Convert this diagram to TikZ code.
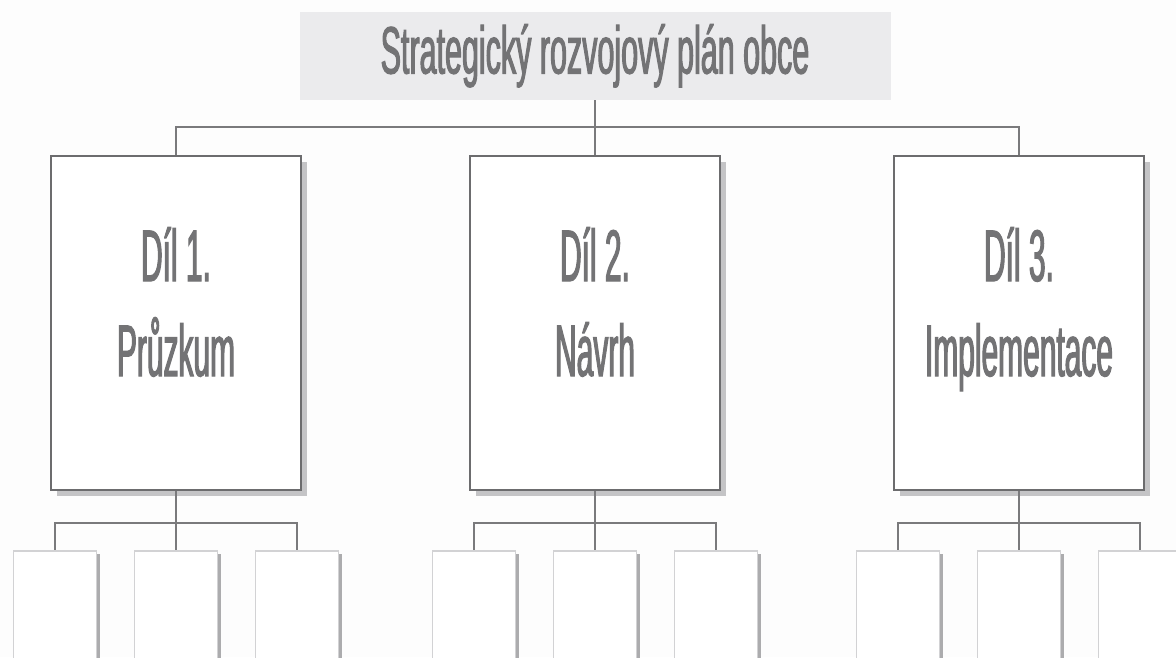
\documentclass[tikz,border=0pt]{standalone}
\usepackage{fontspec}
\usepackage{xcolor}
\usepackage{tikz}
\usetikzlibrary{shadows}
\newfontfamily\condfont[FakeStretch=0.41, FakeBold=1.5]{Liberation Sans}
\newfontfamily\headfont[FakeStretch=0.455, FakeBold=1.5]{Liberation Sans}
\definecolor{bg}{HTML}{FDFDFD}
\definecolor{headbg}{HTML}{EBEBED}
\definecolor{ink}{HTML}{737375}
\definecolor{edge}{HTML}{6C6C6E}
\definecolor{wiregray}{HTML}{7A7A7C}
\definecolor{shade}{HTML}{C4C4C6}
\definecolor{faint}{HTML}{D2D2D4}
\definecolor{fshade}{HTML}{ACACAE}
\tikzset{
  headbox/.style={fill=headbg, minimum width=591pt, minimum height=88pt, inner sep=0pt,
    text=ink, font=\headfont\fontsize{67}{67}\selectfont, text height=48pt, text depth=13pt},
  partbox/.style={draw=edge, fill=white, line width=2pt, minimum width=250pt, minimum height=334pt,
    drop shadow={shadow xshift=6pt, shadow yshift=-6pt, fill=shade, opacity=1}},
  parttxt/.style={text=ink, align=center, inner sep=0pt, font=\condfont\fontsize{73}{95}\selectfont},
  subbox/.style={draw=faint, fill=white, line width=1.5pt, minimum width=83pt, minimum height=160pt,
    anchor=north, drop shadow={shadow xshift=3pt, shadow yshift=-3pt, fill=fshade, opacity=1}},
  wireline/.style={draw=wiregray, line width=1.6pt},
}
\begin{document}
\begin{tikzpicture}[x=1pt, y=-1pt]
  \useasboundingbox (0,0) rectangle (1176,657);
  \clip (0,0) rectangle (1176,657);
  \fill[bg] (0,0) rectangle (1176,657);
  % title
  \node[headbox] (plan) at (595,56) {Strategický rozvojový plán obce};
  \draw[wireline] (plan.south) -- ++(0,27) coordinate (hub);
  % three parts
  \foreach \i/\x/\lab in {1/176/{Díl 1.\\Průzkum}, 2/595/{Díl 2.\\Návrh}, 3/1019/{Díl 3.\\Implementace}} {
    \draw[wireline] (hub) -| (\x,156);
    \node[partbox] (part\i) at (\x,323) {};
    \node[parttxt] (txt\i) at (\x,309.5) {\strut\lab\strut};
    \draw[wireline] (part\i.south) -- ++(0,32) coordinate (fork\i);
    \foreach \d/\j in {-121/a,0/b,121/c} {
      \node[subbox] (sub\i\j) at (\x+\d,550) {};
      \draw[wireline] (fork\i) -| (sub\i\j.north);
    }
  }
\end{tikzpicture}
\end{document}
